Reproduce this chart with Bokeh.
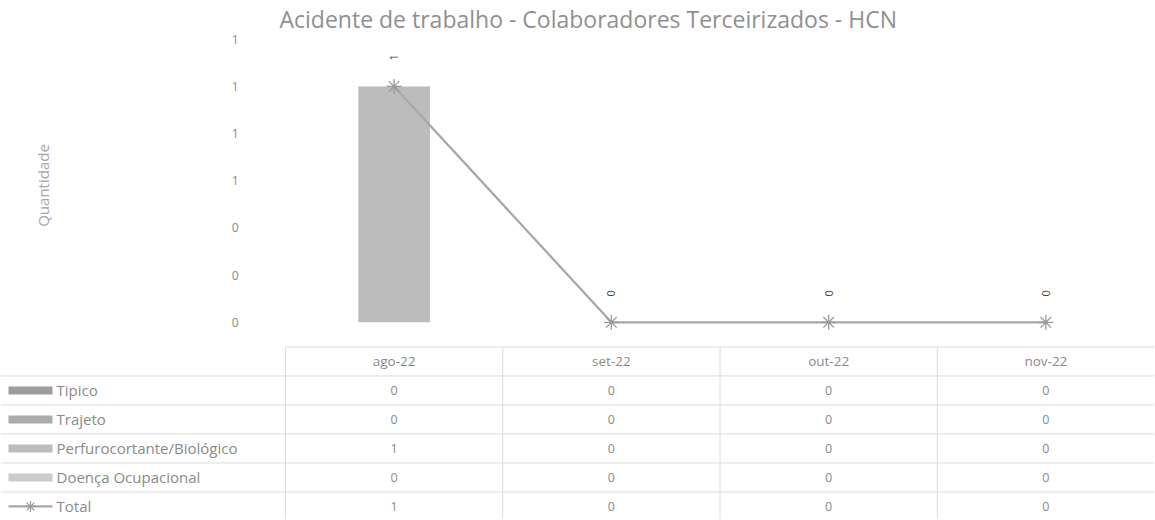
import math
from bokeh.plotting import figure
from bokeh.models import Range1d, FactorRange, FixedTicker, ColumnDataSource
from bokeh.layouts import column
from bokeh.embed import file_html
from bokeh.resources import INLINE
from bokeh.core.properties import value

# ---------------- data ----------------
title_text = "Acidente de trabalho - Colaboradores Terceirizados - HCN"
months = ["ago-22", "set-22", "out-22", "nov-22"]
series_names = ["Tipico", "Trajeto", "Perfurocortante/Biológico", "Doença Ocupacional"]
tipico = [0, 0, 0, 0]
trajeto = [0, 0, 0, 0]
perfuro = [1, 0, 0, 0]
doenca = [0, 0, 0, 0]
total_name = "Total"
total = [1, 0, 0, 0]
y_ticks = [0, 0.2, 0.4, 0.6, 0.8, 1.0, 1.2]
y_tick_labels = ["0", "0", "0", "1", "1", "1", "1"]
y_title = "Quantidade"

# ---------------- style ----------------
FONT = "Open Sans"
TXT = "#8a8a8a"
bar_colors = ["#9c9c9c", "#acacac", "#bcbcbc", "#cbcbcb"]
line_col = "#a8a8a8"
marker_col = "#9a9a9a"
grid_col = "#dcdcdc"

W = 1154
CHART_H = 336
TABLE_H = 183
LEFT = 285

series_keys = ["s0", "s1", "s2", "s3"]
src = ColumnDataSource(dict(month=months, s0=tipico, s1=trajeto, s2=perfuro, s3=doenca,
                            total=total, lab=[str(v) for v in total]))

# ---------------- chart ----------------
p = figure(width=W, height=CHART_H, x_range=FactorRange(*months), y_range=Range1d(-0.06, 1.22),
           output_backend="svg", toolbar_location=None, frame_align=False,
           min_border_left=LEFT, min_border_right=0, min_border_top=0, min_border_bottom=0)
p.title.text = title_text
p.title.text_font = FONT
p.title.text_font_size = "23px"
p.title.text_font_style = "normal"
p.title.text_color = "#909090"
p.title.align = "left"
p.title.offset = -6
p.title.standoff = 0

p.xaxis.visible = False
p.grid.visible = False
p.outline_line_color = None

ya = p.yaxis[0]
ya.ticker = FixedTicker(ticks=y_ticks)
ya.major_label_overrides = dict(zip(y_ticks, y_tick_labels))
ya.axis_line_color = None
ya.major_tick_line_color = None
ya.minor_tick_line_color = None
ya.major_label_standoff = 41
ya.major_label_text_font = FONT
ya.major_label_text_font_size = "12px"
ya.major_label_text_color = TXT
ya.axis_label = y_title
ya.axis_label_text_font = FONT
ya.axis_label_text_font_size = "15px"
ya.axis_label_text_font_style = "normal"
ya.axis_label_text_color = "#a4a4a4"
ya.axis_label_standoff = 176

p.vbar_stack(series_keys, x="month", width=0.33, color=bar_colors, line_color=None, source=src)
p.line(x="month", y="total", line_color=line_col, line_width=2.3, source=src)
p.scatter(x="month", y="total", marker="asterisk", size=15, line_color=marker_col,
          line_width=1.3, source=src)
p.text(x="month", y="total", text="lab", angle=math.pi / 2, y_offset=-29,
       text_align="center", text_baseline="middle", text_font=value(FONT),
       text_font_size="11px", text_color="#444444", source=src)

# ---------------- data table ----------------
n = len(months)
col_px = (W - LEFT) / n
x_left = -LEFT / col_px
t = figure(width=W, height=TABLE_H, x_range=Range1d(x_left, n), y_range=Range1d(5.45, -0.86),
           output_backend="svg", toolbar_location=None, min_border=0, frame_align=False)
t.axis.visible = False
t.grid.visible = False
t.outline_line_color = None

centers = [i + 0.5 for i in range(n)]
rows = [tipico, trajeto, perfuro, doenca, total]
row_names = series_names + [total_name]

# grid lines
t.segment(x0=[0], x1=[n], y0=[-0.5], y1=[-0.5], line_color=grid_col, line_width=1)
hy = [r + 0.5 for r in range(len(rows))]
t.segment(x0=[x_left] * len(hy), x1=[n] * len(hy), y0=hy, y1=hy, line_color=grid_col, line_width=1)
vx = list(range(n))
t.segment(x0=vx, x1=vx, y0=[-0.5] * n, y1=[len(rows) + 0.5] * n, line_color=grid_col, line_width=1)

# header
t.text(x=centers, y=[0] * n, text=months, text_align="center", text_baseline="middle",
       text_font=value(FONT), text_font_size="13.5px", text_color=TXT)
# values
for r, vals in enumerate(rows, start=1):
    t.text(x=centers, y=[r] * n, text=[str(v) for v in vals], text_align="center",
           text_baseline="middle", text_font=value(FONT), text_font_size="12.5px", text_color=TXT)

# legend column
sw = 44 / col_px
ys = list(range(1, len(rows) + 1))
t.text(x=[x_left] * len(rows), y=ys, text=row_names, x_offset=56, text_align="left",
       text_baseline="middle", text_font=value(FONT), text_font_size="15px", text_color=TXT)
t.rect(x=[x_left + 8 / col_px + sw / 2] * 4, y=ys[:4], width=sw, height=8, height_units="screen",
       color=bar_colors, line_color=None)
t.segment(x0=[x_left + 8 / col_px], x1=[x_left + 8 / col_px + sw], y0=[ys[4]], y1=[ys[4]],
          line_color=line_col, line_width=2.3)
t.scatter(x=[x_left + 8 / col_px + sw / 2], y=[ys[4]], marker="asterisk", size=11,
          line_color=marker_col, line_width=1.2)

layout = column(p, t, spacing=0)
open("out.html", "w").write(file_html(layout, INLINE))
